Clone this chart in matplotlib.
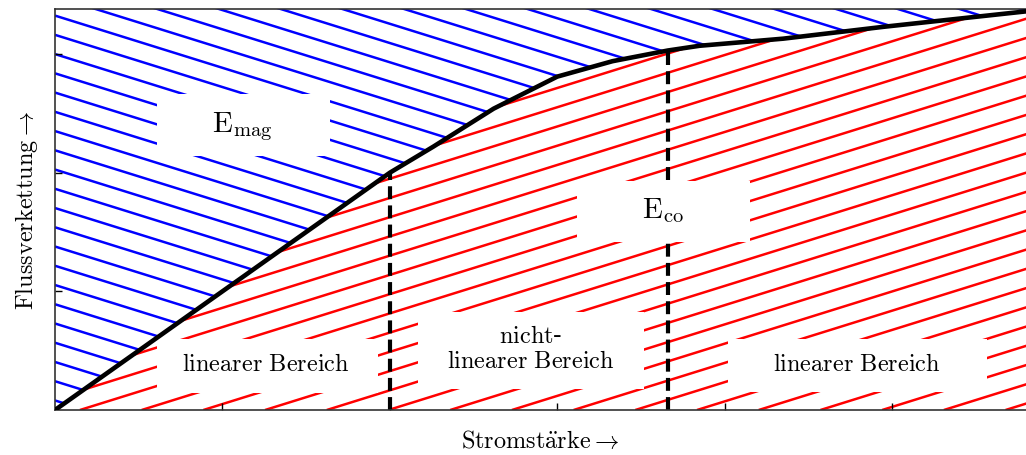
import numpy as np
import matplotlib.pyplot as plt
from matplotlib.patches import Polygon, Rectangle
from matplotlib.collections import LineCollection

plt.rcParams['mathtext.fontset'] = 'cm'

# magnetisation curve (Stromstärke vs. Flussverkettung)
strom = [0.0, 2.0, 2.26, 2.62, 3.0, 3.33, 3.66, 3.85, 4.35, 4.95, 5.8]
fluss = [0.0, 2.0, 2.22, 2.54, 2.81, 2.94, 3.03, 3.07, 3.13, 3.23, 3.36]

# borders of the three regions
grenzen = [2.0, 3.66]
grenzen_fluss = [2.0, 3.03]

xmax, ymax = 5.8, 3.38

energie_labels = [r'$\mathrm{E}_{\mathrm{mag}}$', r'$\mathrm{E}_{\mathrm{co}}$']
bereich_labels = [r'$\mathrm{linearer\ Bereich}$',
                  r'$\mathrm{nicht}$-' + '\n' + r'$\mathrm{linearer\ Bereich}$',
                  r'$\mathrm{linearer\ Bereich}$']

fig = plt.figure(figsize=(10.26, 4.56), dpi=100)
ax = fig.add_axes([55 / 1026, 45 / 456, 971 / 1026, 401 / 456])
ax.set_xlim(0, xmax)
ax.set_ylim(0, ymax)

# regions below / above the curve
unten = Polygon(np.column_stack([strom + [xmax], fluss + [0]]),
                closed=True, facecolor='none', edgecolor='none')
oben = Polygon(np.column_stack([strom + [xmax, 0], fluss + [ymax, ymax]]),
               closed=True, facecolor='none', edgecolor='none')
ax.add_patch(unten)
ax.add_patch(oben)

# hatching
steig = 0.44
rot = []
for x0 in 0.149 + 0.3686 * np.arange(-25, 20):
    rot.append([(x0, 0), (x0 + 12, 12 * steig)])
lc_rot = LineCollection(rot, colors='#ff0000', linewidths=1.8, zorder=1)
ax.add_collection(lc_rot)
lc_rot.set_clip_path(unten)

blau = []
for y0 in 3.0 - 0.1622 * np.arange(-20, 25):
    blau.append([(0, y0), (12, y0 - 12 * steig)])
lc_blau = LineCollection(blau, colors='#0000ff', linewidths=1.8, zorder=1)
ax.add_collection(lc_blau)
lc_blau.set_clip_path(oben)

# dashed borders
for xg, yg in zip(grenzen, grenzen_fluss):
    ax.plot([xg, xg], [0, yg], color='black', lw=3, dashes=(3.1, 1.5), zorder=2)

# curve
ax.plot(strom, fluss, color='black', lw=3.3, zorder=5, solid_capstyle='round',
        solid_joinstyle='round')

# white label boxes
def label(text, cx, cy, box, size):
    x0, y0, w, h = box
    ax.add_patch(Rectangle((x0, y0), w, h, facecolor='white', edgecolor='none', zorder=3))
    ax.text(cx, cy, text, ha='center', va='center', fontsize=size, zorder=4,
            linespacing=1.05)

label(energie_labels[0], 1.12, 2.40, (0.61, 2.14, 1.03, 0.52), 21)
label(energie_labels[1], 3.63, 1.69, (3.12, 1.42, 1.03, 0.51), 21)
label(bereich_labels[0], 1.26, 0.40, (0.61, 0.14, 1.32, 0.46), 17.5)
label(bereich_labels[1], 2.84, 0.53, (2.17, 0.18, 1.35, 0.65), 17.5)
label(bereich_labels[2], 4.79, 0.40, (4.02, 0.15, 1.55, 0.45), 17.5)

ax.set_xticks(range(1, 6))
ax.set_yticks(range(1, 4))
ax.tick_params(direction='in', length=5, width=1, labelbottom=False, labelleft=False)
for s in ['left', 'bottom', 'top']:
    ax.spines[s].set_linewidth(1.2)
    ax.spines[s].set_color('#333333')
ax.spines['right'].set_visible(False)

ax.set_xlabel(r'$\mathrm{Stromst\ddot{a}rke}\rightarrow$', fontsize=17.5, labelpad=13)
ax.set_ylabel(r'$\mathrm{Flussverkettung}\rightarrow$', fontsize=17.5, labelpad=11)

fig.savefig('out.png', dpi=100)
